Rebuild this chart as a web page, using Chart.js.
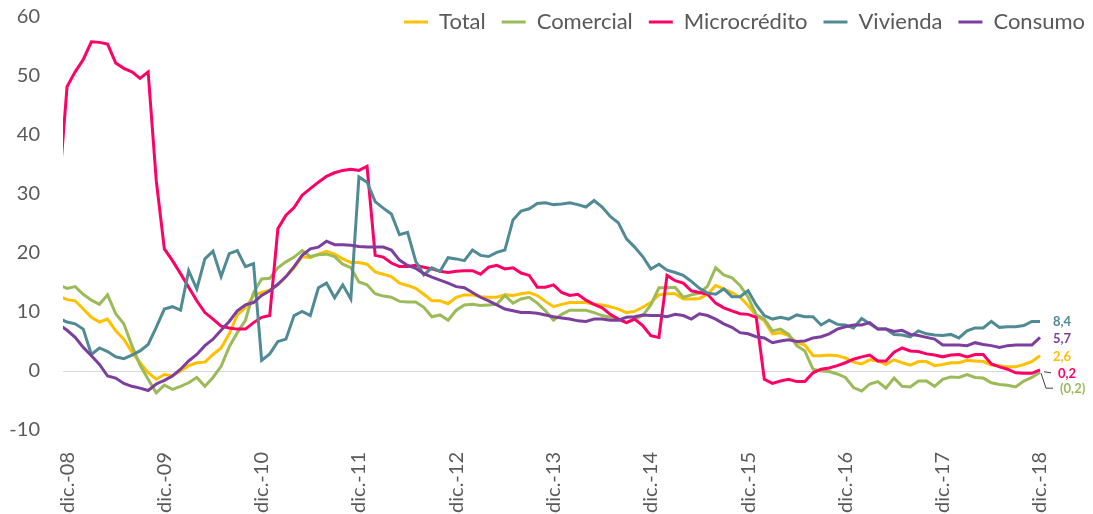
<!DOCTYPE html>
<html><head><meta charset="utf-8">
<script src="https://cdn.jsdelivr.net/npm/chart.js@4.4.1/dist/chart.umd.min.js"></script>
<style>html,body{margin:0;padding:0;background:#fff;}#wrap{width:1093px;height:514px;}</style>
</head><body><div id="wrap"><canvas id="c" width="1093" height="514"></canvas></div>
<script>
// Axis tick labels (one per December)
const tickLabels = ['dic.-08','dic.-09','dic.-10','dic.-11','dic.-12','dic.-13','dic.-14','dic.-15','dic.-16','dic.-17','dic.-18'];
const seriesNames = ['Total','Comercial','Microcrédito','Vivienda','Consumo'];
const seriesColors = ['#FFC000','#9BBB59','#FF0066','#4F8A95','#7D3F9E'];
// Monthly categories: nov.-08 (partly visible at left edge) .. dic.-18
const monthAbbr = ['ene.','feb.','mar.','abr.','may.','jun.','jul.','ago.','sep.','oct.','nov.','dic.'];
const categories = [];
for (let y = 8, m = 10; y < 19;) { categories.push(monthAbbr[m] + '-' + String(y).padStart(2,'0')); m++; if (m === 12) { m = 0; y++; } }

const total = [12.7, 12.1, 11.9, 10.5, 9.1, 8.3, 8.8, 6.8, 5.4, 3.2, 1.4, -0.3, -1.4, -0.6, -0.8, 0.0, 0.9, 1.4, 1.5, 2.8, 3.9,
6.3, 9.5, 10.7, 12.8, 13.3, 13.7, 14.6, 16.0, 17.5, 19.4, 19.2, 19.8, 20.3, 19.8, 19.0, 18.4, 18.4, 18.1, 16.8, 16.4,
16.0, 14.9, 14.5, 14.0, 13.0, 11.9, 11.9, 11.4, 12.5, 12.9, 12.9, 12.6, 12.5, 12.5, 12.9, 12.8, 13.1, 13.3, 12.8, 11.8,
10.9, 11.3, 11.6, 11.6, 11.6, 11.3, 11.2, 10.9, 10.5, 9.9, 10.1, 10.8, 11.6, 12.9, 13.1, 13.1, 12.2, 12.2, 12.3, 13.0,
14.5, 13.9, 13.3, 12.5, 11.1, 9.4, 8.5, 6.3, 6.5, 6.0, 4.8, 4.4, 2.6, 2.6, 2.7, 2.6, 2.2, 1.5, 1.2, 1.9,
1.7, 1.1, 1.9, 1.4, 1.0, 1.6, 1.6, 0.9, 1.1, 1.4, 1.4, 1.8, 1.7, 1.6, 1.0, 0.9, 0.7, 0.7, 1.1, 1.6, 2.6];

const comercial = [14.6, 14.0, 14.3, 13.0, 12.0, 11.3, 12.9, 9.7, 8.0, 4.3, 1.0, -1.4, -3.7, -2.4, -3.1, -2.6, -2.0, -1.1, -2.6, -1.1, 0.8,
4.1, 6.5, 8.6, 13.3, 15.6, 15.7, 17.5, 18.5, 19.3, 20.4, 19.4, 19.7, 19.8, 19.4, 18.1, 17.5, 15.1, 14.6, 13.1, 12.7,
12.5, 11.8, 11.7, 11.7, 10.8, 9.2, 9.5, 8.6, 10.3, 11.2, 11.3, 11.1, 11.2, 11.3, 12.8, 11.5, 12.2, 12.5, 11.5, 10.2,
8.6, 9.6, 10.3, 10.3, 10.3, 9.9, 9.4, 9.1, 8.8, 8.2, 8.8, 9.4, 11.2, 14.1, 14.1, 14.2, 12.5, 12.9, 13.2, 14.4,
17.5, 16.3, 15.8, 14.5, 12.5, 9.5, 8.8, 6.8, 7.1, 6.2, 4.3, 3.4, 0.3, 0.0, -0.1, -0.5, -1.1, -2.8, -3.4, -2.2,
-1.8, -2.9, -1.2, -2.6, -2.7, -1.7, -1.7, -2.6, -1.4, -1.0, -1.1, -0.6, -1.1, -1.2, -2.0, -2.3, -2.4, -2.7, -1.7, -1.1, -0.2];

const microcredito = [30.6, 48.2, 50.7, 52.8, 55.8, 55.7, 55.4, 52.2, 51.3, 50.7, 49.6, 50.7, 32.3, 20.7, 18.7, 16.5, 14.2, 11.9, 9.9, 8.8, 7.6,
7.3, 7.1, 7.1, 8.2, 9.1, 9.4, 24.1, 26.4, 27.7, 29.8, 30.9, 32.0, 33.0, 33.6, 34.0, 34.2, 34.0, 34.7, 19.6, 19.3,
18.3, 17.7, 17.7, 17.9, 17.6, 17.3, 16.9, 16.7, 16.9, 17.0, 17.0, 16.4, 17.6, 17.9, 17.3, 17.5, 16.6, 16.2, 14.2, 14.2,
14.6, 13.3, 12.8, 13.0, 12.0, 11.3, 10.7, 9.6, 8.8, 8.2, 8.8, 7.7, 6.0, 5.7, 16.2, 15.3, 14.9, 13.6, 13.3, 13.0,
11.5, 10.7, 10.2, 9.7, 9.6, 9.1, -1.4, -2.1, -1.7, -1.4, -1.8, -1.8, -0.3, 0.3, 0.5, 0.9, 1.4, 2.0, 2.4, 2.7,
1.7, 1.7, 3.2, 3.9, 3.4, 3.3, 2.9, 2.7, 2.4, 2.7, 2.8, 2.4, 2.8, 2.8, 1.2, 0.7, 0.3, -0.3, -0.4, -0.4, 0.2];

const vivienda = [8.9, 8.3, 8.0, 7.1, 2.8, 3.9, 3.3, 2.4, 2.1, 2.7, 3.4, 4.5, 7.4, 10.5, 10.9, 10.3, 17.0, 13.9, 19.0, 20.3, 16.0,
19.9, 20.4, 17.7, 18.2, 1.8, 2.9, 5.0, 5.4, 9.4, 10.1, 9.4, 14.1, 14.9, 12.4, 14.6, 12.2, 32.9, 32.0, 28.7, 27.6,
26.6, 23.1, 23.5, 18.6, 16.3, 17.5, 16.9, 19.2, 19.0, 18.7, 20.5, 19.6, 19.4, 20.1, 20.5, 25.6, 27.1, 27.5, 28.4, 28.5,
28.2, 28.3, 28.5, 28.2, 27.8, 28.9, 27.8, 26.2, 25.1, 22.4, 21.0, 19.4, 17.3, 18.1, 17.1, 16.7, 16.2, 15.2, 14.0, 13.2,
13.0, 13.9, 12.6, 12.6, 13.6, 11.2, 9.4, 8.8, 9.1, 8.8, 9.5, 9.2, 9.2, 7.8, 8.6, 7.9, 7.8, 7.3, 8.9, 8.0,
7.1, 7.1, 6.2, 6.1, 5.8, 6.8, 6.3, 6.1, 6.0, 6.2, 5.6, 6.8, 7.3, 7.3, 8.4, 7.4, 7.5, 7.5, 7.7, 8.4, 8.4];

const consumo = [7.9, 6.9, 5.7, 4.0, 2.6, 1.1, -0.85, -1.2, -2.1, -2.6, -2.9, -3.3, -2.2, -1.6, -0.85, 0.3, 1.7, 2.8, 4.3, 5.4, 6.9,
8.4, 10.2, 11.2, 11.6, 12.8, 13.6, 14.7, 16.0, 17.7, 19.6, 20.7, 21.0, 22.0, 21.4, 21.4, 21.3, 21.1, 21.0, 21.0, 21.0,
20.5, 18.8, 17.9, 17.4, 16.5, 15.9, 15.4, 14.9, 14.3, 14.1, 13.3, 12.5, 11.9, 11.2, 10.5, 10.2, 9.9, 9.9, 9.8, 9.5,
9.2, 9.0, 8.8, 8.5, 8.4, 8.8, 8.8, 8.6, 8.6, 9.1, 9.2, 9.5, 9.4, 9.4, 9.2, 9.6, 9.4, 8.8, 9.7, 9.4,
8.8, 8.0, 7.4, 6.5, 6.3, 5.8, 5.6, 4.8, 5.1, 5.3, 5.0, 5.1, 5.6, 5.8, 6.3, 7.1, 7.5, 7.8, 7.8, 8.2,
7.1, 7.1, 6.7, 6.9, 6.2, 6.0, 5.7, 5.4, 4.4, 4.4, 4.4, 4.3, 4.8, 4.5, 4.3, 4.0, 4.3, 4.4, 4.4, 4.4, 5.7];

const seriesValues = [total, comercial, microcredito, vivienda, consumo];
const tickIndex = tickLabels.map(l => categories.indexOf(l));
const FONT = 'Lato, "Open Sans", sans-serif';
const TXT = '#595959';

function fmt(v) {
  const s = Math.abs(v).toFixed(1).replace('.', ',');
  return v < 0 ? '(' + s + ')' : s;
}

const legendPlacer = {
  id: 'legendPlacer',
  beforeLayout(chart) {
    const lg = chart.legend;
    if (lg && !lg._patched) {
      const orig = lg.fit;
      lg.fit = function () { orig.call(this); this.height = 0; };
      lg._patched = true;
    }
  },
  afterLayout(chart) {
    const lg = chart.legend;
    if (!lg) return;
    lg.top = -5; lg.height = 60; lg.bottom = lg.top + lg.height;
    lg.right = 1101; lg.width = lg.right - lg.left;
  }
};

const endLabels = {
  id: 'endLabels',
  afterDatasetsDraw(chart) {
    const ctx = chart.ctx;
    const offs = [[13, 1.5], [20, 17], [18, 4], [13, 0], [13, 1.5]];
    ctx.save();
    ctx.font = 'bold 13px ' + FONT;
    ctx.textBaseline = 'middle';
    ctx.textAlign = 'left';
    chart.data.datasets.forEach((ds, i) => {
      const meta = chart.getDatasetMeta(i);
      const pt = meta.data[meta.data.length - 1];
      const v = seriesValues[i][seriesValues[i].length - 1];
      ctx.fillStyle = seriesColors[i];
      ctx.fillText(fmt(v), pt.x + offs[i][0], pt.y + offs[i][1]);
      if (i === 2) {
        ctx.strokeStyle = '#404040'; ctx.lineWidth = 1;
        ctx.beginPath(); ctx.moveTo(pt.x + 4, pt.y + 2); ctx.lineTo(pt.x + 11, pt.y + 3); ctx.stroke();
      }
      if (i === 1) {
        ctx.strokeStyle = '#404040'; ctx.lineWidth = 1;
        ctx.beginPath(); ctx.moveTo(pt.x + 1, pt.y + 1); ctx.lineTo(pt.x + 6, pt.y + 16); ctx.lineTo(pt.x + 13, pt.y + 16); ctx.stroke();
      }
    });
    ctx.restore();
  }
};

new Chart(document.getElementById('c'), {
  type: 'line',
  data: {
    datasets: seriesNames.map((name, i) => ({
      label: name,
      data: seriesValues[i].map((v, k) => ({ x: k, y: v })),
      borderColor: seriesColors[i],
      backgroundColor: seriesColors[i],
      borderWidth: 3,
      pointRadius: 0,
      tension: 0,
      order: seriesNames.length - i,
      clip: { left: 0, right: 4, top: 4, bottom: 4 }
    }))
  },
  options: {
    responsive: false,
    animation: false,
    layout: { padding: { top: 17, right: 53, left: 0, bottom: 0 } },
    scales: {
      x: {
        type: 'linear', bounds: 'data', min: 0.5, max: categories.length - 1,
        afterBuildTicks: s => { s.ticks = tickIndex.map(v => ({ value: v })); },
        afterFit: s => { s.height = 84; },
        grid: { display: false }, border: { display: false },
        ticks: {
          autoSkip: false, minRotation: 90, maxRotation: 90, padding: 14,
          color: TXT, font: { family: FONT, size: 20 },
          callback: v => categories[v]
        }
      },
      y: {
        min: -10, max: 60,
        afterFit: s => { s.width = 63; s.paddingTop = 0; s.paddingBottom = 0; },
        border: { display: false },
        grid: { drawTicks: false, lineWidth: 1, color: c => (c.tick && c.tick.value === 0) ? '#D9D9D9' : 'rgba(0,0,0,0)' },
        ticks: { stepSize: 10, padding: 23, color: TXT, font: { family: FONT, size: 20 } }
      }
    },
    plugins: {
      tooltip: { enabled: false },
      legend: {
        position: 'top', align: 'end',
        labels: {
          usePointStyle: true, pointStyle: 'line', pointStyleWidth: 24,
          padding: 16, color: TXT, font: { family: FONT, size: 22 },
          sort: (a, b) => a.datasetIndex - b.datasetIndex
        }
      }
    }
  },
  plugins: [legendPlacer, endLabels]
});
</script></body></html>
